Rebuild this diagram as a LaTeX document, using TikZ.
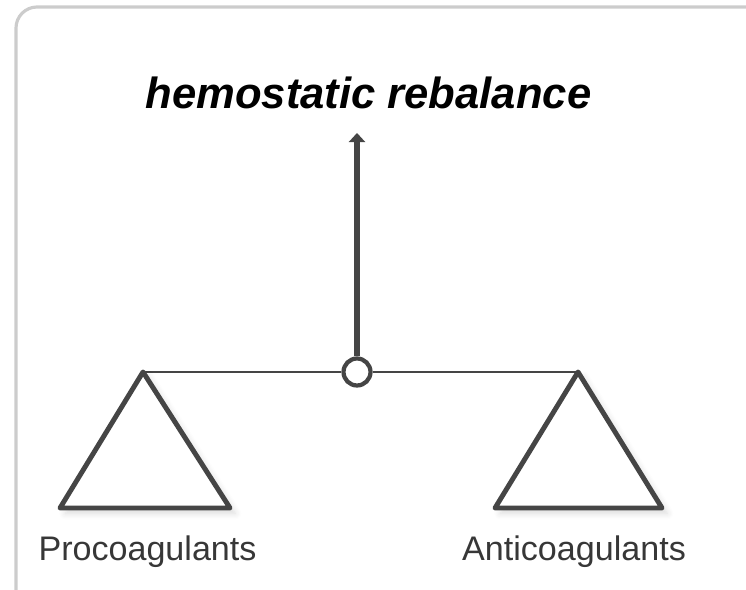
\documentclass[tikz,border=0pt]{standalone}
\usepackage{fontspec}
\setsansfont{Liberation Sans}
\usetikzlibrary{calc,arrows.meta,positioning,shadows.blur}
\definecolor{ink}{HTML}{454545}
\tikzset{
  pan/.style={draw=ink,line width=1.4pt,line join=round,fill=white,
    blur shadow={shadow xshift=1.5pt,shadow yshift=-1.5pt,shadow opacity=15,shadow blur steps=6}},
  lbl/.style={font=\sffamily\fontsize{9.7}{11}\selectfont,text=ink!80!black,inner sep=0pt}
}

\begin{document}
\begin{tikzpicture}
\useasboundingbox (0,0) rectangle (7.46,5.9);
\draw[gray!40,line width=0.9pt,rounded corners=6pt] (0.16,-0.3) rectangle (8,5.83);
\node[font=\sffamily\bfseries\itshape\fontsize{12.4}{14}\selectfont,inner sep=0pt] (title) at (3.685,4.97) {hemostatic rebalance};
\coordinate (stemtop) at (3.57,4.57);
\coordinate (lpan) at (1.43,2.18);
\coordinate (rpan) at (5.78,2.18);
\node[circle,draw=ink,line width=1.2pt,fill=white,minimum size=0.27cm,inner sep=0pt] (pivot) at (3.57,2.18) {};
\draw[ink,line width=0.8pt] (lpan) -- (pivot.west);
\draw[ink,line width=0.8pt] (pivot.east) -- (rpan);
\draw[ink,line width=1.6pt,-{Triangle[length=2.6pt,width=4.6pt]}] (pivot.north) -- (stemtop);
% scale pans
\draw[pan] (lpan) -- ++(-0.83,-1.36) -- ++(1.70,0) -- cycle;
\draw[pan] (rpan) -- ++(-0.83,-1.36) -- ++(1.67,0) -- cycle;
\node[lbl] (pro) at (1.475,0.38) {Procoagulants};
\node[lbl] (anti) at (5.74,0.38) {Anticoagulants};
\end{tikzpicture}
\end{document}
